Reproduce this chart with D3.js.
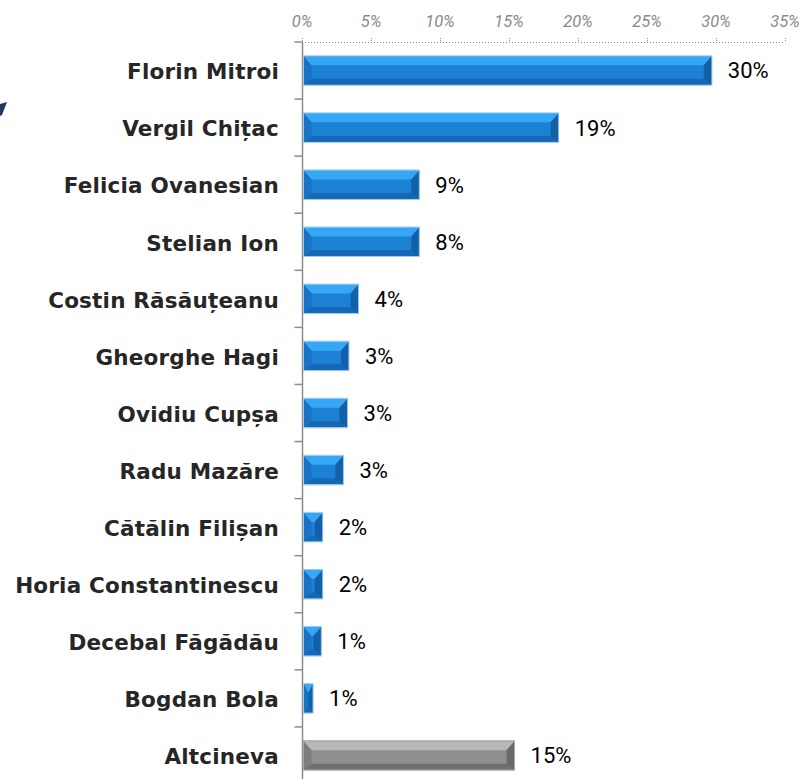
<!DOCTYPE html>
<html>
<head>
<meta charset="utf-8">
<script src="https://cdn.jsdelivr.net/npm/d3@7"></script>
<style>
  body { margin: 0; background: #fff; }
  .cat { font-family: "DejaVu Sans", sans-serif; font-weight: bold; font-size: 21.5px; letter-spacing: 0.2px; fill: #262626; }
  .val { font-family: Roboto, sans-serif; font-size: 22px; fill: #000; }
  .tick-lbl { font-family: Roboto, sans-serif; font-style: italic; font-size: 16.5px; fill: #8a8a8a; }
</style>
</head>
<body>
<div id="chart"></div>
<script>
// chart data
var names = ["Florin Mitroi", "Vergil Chițac", "Felicia Ovanesian", "Stelian Ion",
  "Costin Răsăuțeanu", "Gheorghe Hagi", "Ovidiu Cupșa", "Radu Mazăre",
  "Cătălin Filișan", "Horia Constantinescu", "Decebal Făgădău", "Bogdan Bola", "Altcineva"];
var values = [29.7, 18.6, 8.5, 8.5, 4.1, 3.4, 3.3, 3.0, 1.5, 1.5, 1.4, 0.8, 15.4];
var valueLabels = ["30%", "19%", "9%", "8%", "4%", "3%", "3%", "3%", "2%", "2%", "1%", "1%", "15%"];
var tickValues = [0, 5, 10, 15, 20, 25, 30, 35];

var svgWidth = 802;
var svgHeight = 779;

var svg = d3.select("#chart")
  .append("svg")
  .attr("width", svgWidth)
  .attr("height", svgHeight);

var xScale = d3.scaleLinear()
  .domain([0, 35])
  .range([302, 785]);

var yScale = d3.scaleBand()
  .domain(names)
  .range([42, 784])
  .paddingInner(0.5)
  .paddingOuter(0.25);

var step = yScale.step();

// colours of the beveled bars
function palette(name) {
  return name === "Altcineva"
    ? {top: "#b8b8b8", mid: "#8f8f8f", bot: "#707070", left: "#7d7d7d", right: "#6a6a6a", edge: "#a8a8a8"}
    : {top: "#36a7f4", mid: "#1c80d3", bot: "#1668b6", left: "#1873c4", right: "#135fa8", edge: "#9cc9ec"};
}

// top axis: dotted line with small tick marks
svg.append("line")
  .attr("x1", xScale(0)).attr("x2", xScale(35))
  .attr("y1", 42.5).attr("y2", 42.5)
  .attr("stroke", "#8c8c8c")
  .attr("stroke-dasharray", "1,2");

svg.selectAll(".xtick")
  .data(tickValues)
  .enter()
  .append("line")
  .attr("x1", d => Math.round(xScale(d)) + 0.5)
  .attr("x2", d => Math.round(xScale(d)) + 0.5)
  .attr("y1", 38).attr("y2", 42)
  .attr("stroke", "#8c8c8c")
  .attr("stroke-dasharray", "1,1");

svg.selectAll(".tick-lbl")
  .data(tickValues)
  .enter()
  .append("text")
  .attr("class", "tick-lbl")
  .attr("x", d => xScale(d))
  .attr("y", 27)
  .attr("text-anchor", "middle")
  .text(d => d + "%");

// left axis with ticks between categories
var axisX = Math.round(xScale(0)) + 0.5;
svg.append("line")
  .attr("x1", axisX).attr("x2", axisX)
  .attr("y1", 42).attr("y2", svgHeight)
  .attr("stroke", "#8c8c8c")
  .attr("stroke-width", 1.5);

svg.selectAll(".ytick")
  .data(names)
  .enter()
  .append("line")
  .attr("x1", axisX - 8).attr("x2", axisX)
  .attr("y1", d => yScale(d) - yScale.paddingOuter() * step)
  .attr("y2", d => yScale(d) - yScale.paddingOuter() * step)
  .attr("stroke", "#8c8c8c")
  .attr("stroke-width", 1.5);

// bars
var bars = svg.selectAll(".bar")
  .data(names)
  .enter()
  .append("g")
  .attr("class", "bar");

bars.each(function(d, i) {
  var g = d3.select(this);
  var p = palette(d);
  var x0 = xScale(0) + 1.5;
  var x1 = xScale(values[i]);
  var y0 = yScale(d);
  var h = yScale.bandwidth();
  var y1 = y0 + h;
  var b = Math.min(8, (x1 - x0) / 2);
  var bt = 9, bb = 6;

  g.append("rect")
    .attr("x", x0).attr("y", y0)
    .attr("width", x1 - x0).attr("height", h)
    .attr("fill", p.mid);
  // top facet
  g.append("polygon")
    .attr("points", [[x0, y0], [x1, y0], [x1 - b, y0 + bt], [x0 + b, y0 + bt]].join(" "))
    .attr("fill", p.top);
  // bottom facet
  g.append("polygon")
    .attr("points", [[x0, y1], [x1, y1], [x1 - b, y1 - bb], [x0 + b, y1 - bb]].join(" "))
    .attr("fill", p.bot);
  // left facet
  g.append("polygon")
    .attr("points", [[x0, y0], [x0 + b, y0 + bt], [x0 + b, y1 - bb], [x0, y1]].join(" "))
    .attr("fill", p.left);
  // right facet
  g.append("polygon")
    .attr("points", [[x1, y0], [x1 - b, y0 + bt], [x1 - b, y1 - bb], [x1, y1]].join(" "))
    .attr("fill", p.right);
  // thin light outline
  g.append("rect")
    .attr("x", x0).attr("y", y0 - 0.5)
    .attr("width", x1 - x0).attr("height", h + 1)
    .attr("fill", "none")
    .attr("stroke", p.edge)
    .attr("stroke-width", 1);
});

// value labels
svg.selectAll(".val")
  .data(names)
  .enter()
  .append("text")
  .attr("class", "val")
  .attr("x", (d, i) => xScale(values[i]) + 16)
  .attr("y", d => yScale(d) + yScale.bandwidth() / 2)
  .attr("dy", "0.36em")
  .text((d, i) => valueLabels[i]);

// category labels
svg.selectAll(".cat")
  .data(names)
  .enter()
  .append("text")
  .attr("class", "cat")
  .attr("x", 279)
  .attr("y", d => yScale(d) + yScale.bandwidth() / 2 + 1)
  .attr("dy", "0.36em")
  .attr("text-anchor", "end")
  .text(d => d);

// clipped decoration at the left edge
svg.append("path")
  .attr("d", "M0,104 L7,102 L2,115 L0,116 Z")
  .attr("fill", "#1f3b5c");
</script>
</body>
</html>
